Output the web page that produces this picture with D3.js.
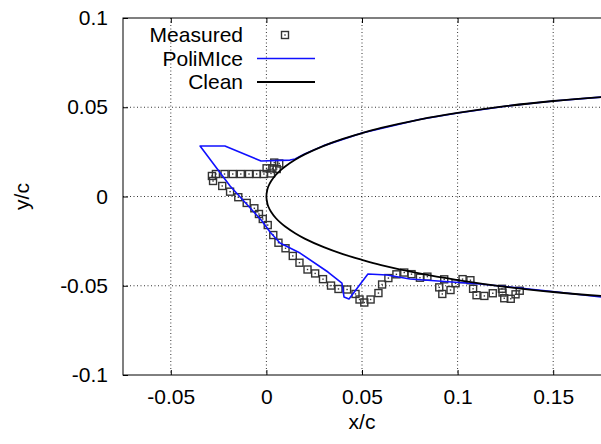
<!DOCTYPE html>
<html><head><meta charset="utf-8">
<script src="https://cdn.jsdelivr.net/npm/d3@7"></script>
<style>body{margin:0;background:#fff}svg{display:block}text{font-family:"Liberation Sans",Arial,sans-serif}</style>
</head><body><svg id="c" width="601" height="444"></svg>
<script>
const xTicks = [-0.05, 0, 0.05, 0.1, 0.15];
const yTicks = [-0.1, -0.05, 0, 0.05, 0.1];
const seriesNames = ["Measured", "PoliMIce", "Clean"];

// Clean airfoil contour (upper surface from aft to LE, then lower surface)
const cleanX = [0.2,0.175,0.15,0.125,0.1,0.08,0.06,0.05,0.04,0.03,0.02,0.015,0.01,0.0075,0.005,0.0025,0.001,0.0005,0,
                0.0005,0.001,0.0025,0.005,0.0075,0.01,0.015,0.02,0.03,0.04,0.05,0.06,0.08,0.1,0.125,0.15,0.175,0.2];
const cleanY = [0.0574,0.0557,0.0535,0.0506,0.0468,0.0431,0.0384,0.0355,0.0323,0.0284,0.0236,0.0206,0.0170,0.0148,0.0122,0.0087,0.0056,0.0039,0,
                -0.0039,-0.0056,-0.0087,-0.0122,-0.0148,-0.0170,-0.0206,-0.0236,-0.0284,-0.0323,-0.0355,-0.0384,-0.0431,-0.0468,-0.0506,-0.0535,-0.0557,-0.0574];

// PoliMIce ice shape
const iceX = [0.2,0.175,0.15,0.125,0.1,0.08,0.05,0.03,0.02,0.015,0.0123,-0.0028,-0.0217,-0.0347,
              -0.0190,-0.0023,0.0019,0.0071,0.0176,0.0322,0.0395,0.0406,0.0432,0.0531,0.0631,0.0751,0.1117,0.1274,0.1520,0.1750,0.2];
const iceY = [0.0574,0.0557,0.0535,0.0506,0.0468,0.0431,0.0356,0.0285,0.0238,0.0210,0.0204,0.0199,0.0283,0.0283,
              0.0059,-0.0137,-0.0199,-0.0261,-0.0317,-0.0423,-0.0485,-0.0563,-0.0574,-0.0434,-0.0440,-0.0462,-0.0490,-0.0507,-0.0535,-0.0563,-0.0580];

// Measured ice shape
const measX = [-0.0285,-0.0279,-0.0264,-0.0219,-0.0176,-0.0134,-0.0091,-0.0051,-0.0013,0.0001,0.0024,0.0031,0.0041,0.0054,0.0067,
               -0.0231,-0.0190,-0.0147,-0.0103,-0.0063,-0.0039,-0.0019,0.0007,0.0036,0.0063,0.0100,0.0138,0.0173,0.0215,0.0255,
               0.0296,0.0338,0.0377,0.0422,0.0466,0.0487,0.0512,0.0545,0.0586,0.0605,0.0638,0.0680,0.0721,0.0759,0.0803,0.0842,
               0.0904,0.0920,0.0930,0.0963,0.0989,0.1026,0.1067,0.1081,0.1099,0.1140,0.1184,0.1232,0.1235,0.1244,0.1278,0.1303,0.1325];
const measY = [0.0115,0.0087,0.0126,0.0126,0.0126,0.0126,0.0126,0.0126,0.0126,0.0158,0.0129,0.0158,0.0190,0.0154,0.0185,
               0.0059,0.0027,-0.0004,-0.0036,-0.0066,-0.0098,-0.0126,-0.0160,-0.0216,-0.0259,-0.0290,-0.0333,-0.0371,-0.0409,-0.0431,
               -0.0463,-0.0499,-0.0518,-0.0521,-0.0546,-0.0577,-0.0594,-0.0577,-0.0541,-0.0493,-0.0457,-0.0436,-0.0426,-0.0435,-0.0455,-0.0449,
               -0.0509,-0.0546,-0.0464,-0.0524,-0.0486,-0.0463,-0.0469,-0.0517,-0.0553,-0.0557,-0.0542,-0.0517,-0.0538,-0.0570,-0.0573,-0.0548,-0.0528];

const L = 123, R = 601, T = 18, B = 375;
const FS = 21;
const x = d3.scaleLinear().domain([-0.075, 0.175]).range([L, R]);
const y = d3.scaleLinear().domain([-0.1, 0.1]).range([B, T]);
const svg = d3.select("#c");
const fmt = d => String(d);

svg.append("defs").append("clipPath").attr("id","clip")
  .append("rect").attr("x",L).attr("y",T).attr("width",R-L).attr("height",B-T);

// grid
const g = svg.append("g").attr("stroke","#000").attr("stroke-width",0.8).attr("stroke-dasharray","1,2.5");
xTicks.forEach(t => g.append("line").attr("x1",x(t)).attr("x2",x(t)).attr("y1",T).attr("y2",B));
yTicks.filter(t => t > -0.1 && t < 0.1).forEach(t => g.append("line").attr("y1",y(t)).attr("y2",y(t)).attr("x1",L).attr("x2",R));

// axes
const ax = d3.axisBottom(x).tickValues(xTicks).tickFormat(fmt).tickSizeInner(-5).tickSizeOuter(0).tickPadding(14);
const ay = d3.axisLeft(y).tickValues(yTicks).tickFormat(fmt).tickSizeInner(-5).tickSizeOuter(0).tickPadding(15);
const gx = svg.append("g").attr("transform",`translate(0,${B})`).call(ax);
const gy = svg.append("g").attr("transform",`translate(${L},0)`).call(ay);
svg.append("g").attr("transform",`translate(0,${T})`).call(d3.axisTop(x).tickValues(xTicks).tickFormat("").tickSizeInner(-5).tickSizeOuter(0));
[gx,gy].forEach(a => { a.selectAll("text").attr("font-size",FS).attr("fill","#000").style("font-family","'Liberation Sans',Arial,sans-serif"); });
svg.selectAll(".tick line").attr("stroke","#000");
svg.selectAll(".domain").remove();
svg.append("rect").attr("x",L).attr("y",T).attr("width",R-L+2).attr("height",B-T)
  .attr("fill","none").attr("stroke","#000").attr("stroke-width",1);

svg.append("text").attr("x",x(0.05)).attr("y",422).attr("dy","0.35em").attr("text-anchor","middle").attr("font-size",FS).text("x/c");
svg.append("text").attr("transform",`translate(22,${y(0)}) rotate(-90)`).attr("dy","0.35em").attr("text-anchor","middle").attr("font-size",FS).text("y/c");

const plot = svg.append("g").attr("clip-path","url(#clip)");
const line = d3.line().x(d => x(d[0])).y(d => y(d[1]));
const sym = g2 => {
  g2.append("rect").attr("x",-3.5).attr("y",-3.5).attr("width",7).attr("height",7)
    .attr("fill","none").attr("stroke","#333").attr("stroke-width",1.4);
  g2.append("rect").attr("x",-0.7).attr("y",-0.7).attr("width",1.4).attr("height",1.4).attr("fill","#333");
};

// measured
measX.forEach((v,i) => { const p = plot.append("g").attr("transform",`translate(${x(v)},${y(measY[i])})`); sym(p); });
// PoliMIce
plot.append("path").attr("d", line(iceX.map((v,i)=>[v,iceY[i]]))).attr("fill","none").attr("stroke","#1010ff").attr("stroke-width",1.6).attr("stroke-linejoin","round");
// Clean
plot.append("path").attr("d", d3.line().x(d=>x(d[0])).y(d=>y(d[1])).curve(d3.curveCatmullRom)(cleanX.map((v,i)=>[v,cleanY[i]])))
  .attr("fill","none").attr("stroke","#000").attr("stroke-width",1.8);

// legend
const lg = svg.append("g");
const rows = [35, 58.5, 82];
seriesNames.forEach((n,i) => {
  lg.append("text").attr("x",243).attr("y",rows[i]).attr("dy","0.35em").attr("text-anchor","end").attr("font-size",FS).text(n);
});
{ const p = lg.append("g").attr("transform",`translate(285,${rows[0]})`); sym(p); }
lg.append("line").attr("x1",257).attr("x2",315).attr("y1",rows[1]).attr("y2",rows[1]).attr("stroke","#1010ff").attr("stroke-width",1.6);
lg.append("line").attr("x1",257).attr("x2",315).attr("y1",rows[2]).attr("y2",rows[2]).attr("stroke","#000").attr("stroke-width",1.8);
</script></body></html>
